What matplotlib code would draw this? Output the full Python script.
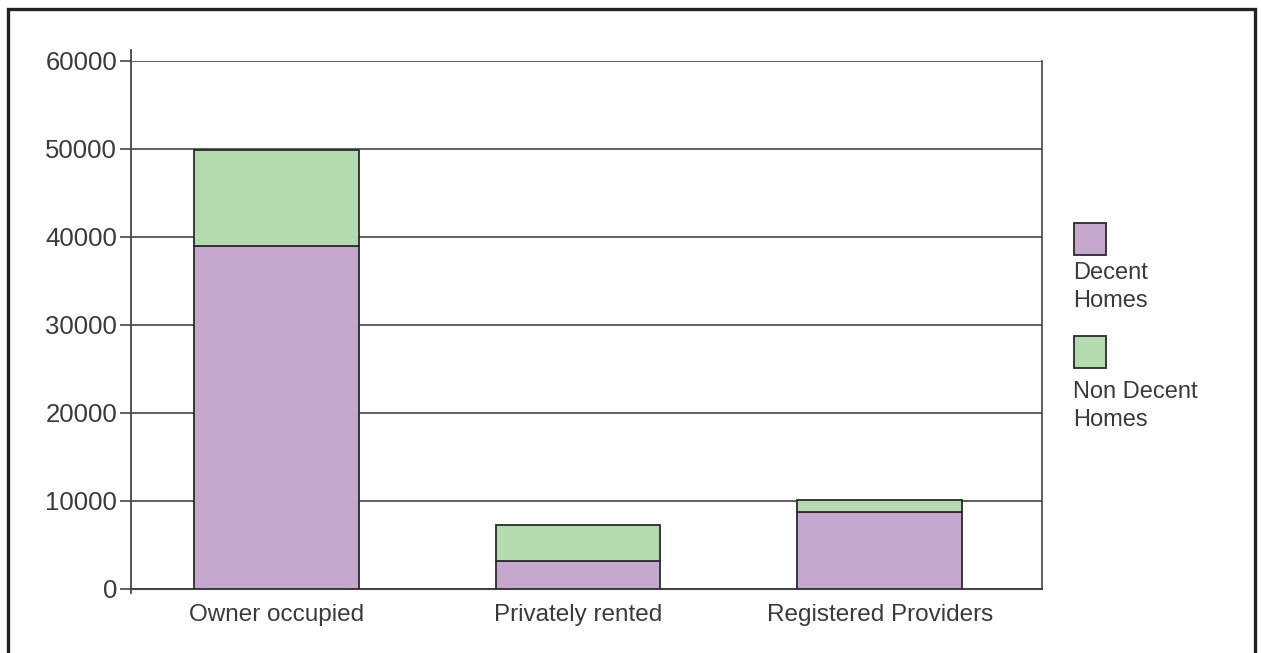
import matplotlib
matplotlib.use("Agg")
import matplotlib.pyplot as plt
from matplotlib.patches import Rectangle
from matplotlib.lines import Line2D

categories = ["Owner occupied", "Privately rented", "Registered Providers"]
decent = [39000, 3200, 8700]
non_decent = [10900, 4100, 1400]
yticks = [0, 10000, 20000, 30000, 40000, 50000, 60000]
series_names = ["Decent\nHomes", "Non Decent\nHomes"]

c_decent = "#C6A8CE"
c_non = "#B4DBB0"
edge = "#2b2b2b"
txt = "#3a3a3a"
grid_c = "#444444"

plt.rcParams['font.family'] = ['Liberation Sans', 'DejaVu Sans']

W, H = 1261, 653
fig = plt.figure(figsize=(W / 100, H / 100), dpi=100)
fig.patch.set_facecolor("white")

# outer frame (bottom edge runs off the image)
frame = Rectangle((8 / W, -0.05), (1255 - 8) / W, 1 + 0.05 - 9 / H,
                  transform=fig.transFigure, fill=False, edgecolor="#222222",
                  linewidth=2.4, clip_on=False)
fig.patches.append(frame)

ax_l, ax_r, ax_t, ax_b = 131, 1042, 61, 589
ax = fig.add_axes([ax_l / W, 1 - ax_b / H, (ax_r - ax_l) / W, (ax_b - ax_t) / H])

x = list(range(len(categories)))
bw = 0.546
ax.bar(x, decent, width=bw, color=c_decent, edgecolor=edge, linewidth=1.3, zorder=3)
ax.bar(x, non_decent, width=bw, bottom=decent, color=c_non, edgecolor=edge,
       linewidth=1.3, zorder=3)

ax.set_xlim(-0.482, 2.538)
ax.set_ylim(0, 60000)
ax.set_yticks(yticks)
ax.set_yticklabels([str(v) for v in yticks])
ax.set_xticks(x)
ax.set_xticklabels(categories)
ax.tick_params(axis='y', length=8, width=1.2, color=grid_c, labelsize=18.5,
               labelcolor=txt, pad=2)
ax.tick_params(axis='x', length=0, labelsize=17.5, labelcolor=txt, pad=11)
ax.yaxis.grid(True, color=grid_c, linewidth=1.2, zorder=0)
ax.set_axisbelow(True)

for s in ["top", "left"]:
    ax.spines[s].set_visible(False)
ax.spines["right"].set_color(grid_c)
ax.spines["right"].set_linewidth(1.2)
ax.spines["bottom"].set_color(grid_c)
ax.spines["bottom"].set_linewidth(1.5)

# left axis line extending slightly beyond the plot
ax.add_line(Line2D([0, 0], [-0.008, 1.02], transform=ax.transAxes, color=grid_c,
                   linewidth=1.3, clip_on=False, zorder=5))

# legend drawn manually
colors = [c_decent, c_non]
sq_tops = [223, 336]
txt_tops = [262, 381]
for name, col, st, tt in zip(series_names, colors, sq_tops, txt_tops):
    fig.patches.append(Rectangle((1074 / W, 1 - (st + 32) / H), 32 / W, 32 / H,
                                 transform=fig.transFigure, facecolor=col,
                                 edgecolor=edge, linewidth=1.3))
    fig.text(1073 / W, 1 - tt / H, name, ha='left', va='top', fontsize=17,
             color=txt, linespacing=1.35)

fig.savefig("out.png", dpi=100)
